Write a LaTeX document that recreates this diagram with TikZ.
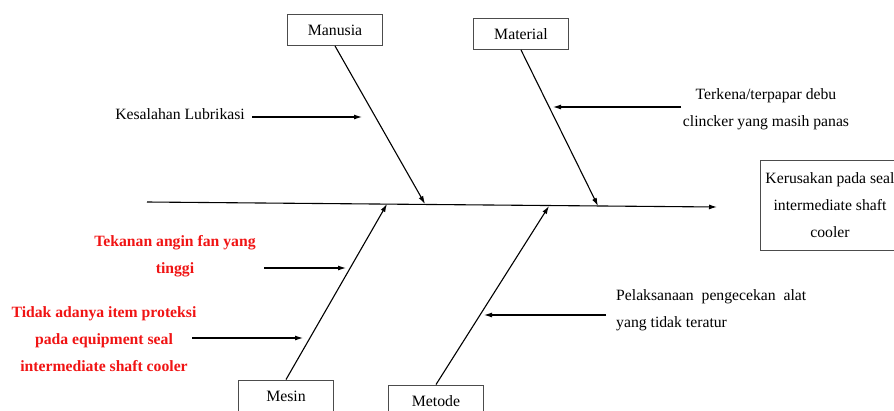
\documentclass[tikz,border=0pt]{standalone}
\usepackage{fontspec}
\setmainfont{Liberation Serif}
\usetikzlibrary{arrows.meta}
\begin{document}
\begin{tikzpicture}[x=1pt,y=-1pt,
 catbox/.style={draw=black!70,line width=0.9pt,minimum width=95pt,minimum height=31pt,inner sep=0pt,font=\fontsize{15.8}{18}\selectfont},
 bone/.style={line width=1.1pt,-{Latex[length=8pt,width=5pt]}},
 cause/.style={line width=1.1pt,-{Latex[length=8pt,width=5pt]}},
 txt/.style={font=\fontsize{15.7}{27}\selectfont,align=center,inner sep=0pt},
 redtxt/.style={font=\fontsize{15.7}{27}\selectfont\bfseries,text={rgb,255:red,240;green,20;blue,20},align=center,inner sep=0pt}]
\useasboundingbox (0,0) rectangle (894,410);
\clip (0,0) rectangle (894,410);

% category boxes
\node[catbox] (manusia) at (335,30) {Manusia};
\node[catbox] (material) at (521,34) {Material};
\node[catbox,minimum height=32pt] (mesin) at (286,396) {Mesin};
\node[catbox,minimum height=32pt] (metode) at (436,401) {Metode};

% effect box
\node[draw=black!70,line width=0.9pt,minimum width=140pt,minimum height=90pt,inner sep=0pt,
      font=\fontsize{15.7}{27}\selectfont,align=center] (effect) at (830,205)
      {Kerusakan pada seal\\intermediate shaft\\cooler};

% spine
\coordinate (tail) at (147,202);
\coordinate (head) at (717,207);
\draw[bone] (tail) -- (head);

% points on spine
\coordinate (pMan) at (425,204);
\coordinate (pMat) at (598,206);
\coordinate (pMes) at (387,204);
\coordinate (pMet) at (549,206);

\draw[bone] (manusia.south) -- (pMan);
\draw[bone] (material.south) -- (pMat);
\draw[bone] (mesin.north) -- (pMes);
\draw[bone] (metode.north) -- (pMet);

% Manusia cause
\node[txt,anchor=east] (kes) at (245,114) {Kesalahan Lubrikasi};
\coordinate (kesStart) at (252,117);
\coordinate (kesEnd) at (362,117);
\draw[cause] (kesStart) -- (kesEnd);

% Material cause
\node[txt] (terk) at (766,109) {Terkena/terpapar debu\\clincker yang masih panas};
\coordinate (terkStart) at (681,107);
\coordinate (terkEnd) at (553,107);
\draw[cause] (terkStart) -- (terkEnd);

% Mesin causes
\node[redtxt] (tek) at (175,256) {Tekanan angin fan yang\\tinggi};
\coordinate (tekStart) at (264,268);
\coordinate (tekEnd) at (346,268);
\draw[cause] (tekStart) -- (tekEnd);

\node[redtxt] (tid) at (104,339) {Tidak adanya item proteksi\\pada equipment seal\\intermediate shaft cooler};
\coordinate (tidStart) at (192,338);
\coordinate (tidEnd) at (303,338);
\draw[cause] (tidStart) -- (tidEnd);

% Metode cause
\node[txt,align=left,anchor=west] (pel) at (616,310) {Pelaksanaan\ \ pengecekan\ \ alat\\yang tidak teratur};
\coordinate (pelStart) at (606,315);
\coordinate (pelEnd) at (484,315);
\draw[cause] (pelStart) -- (pelEnd);
\end{tikzpicture}
\end{document}
